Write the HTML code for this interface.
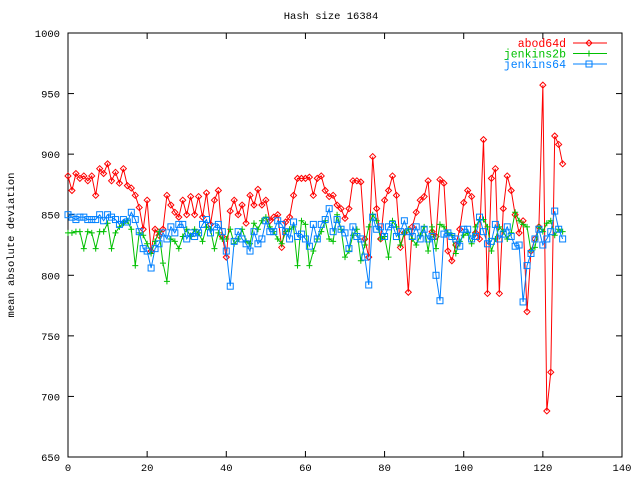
<!DOCTYPE html>
<html><head><meta charset="utf-8"><style>
body{margin:0;background:#fff}
svg{display:block;font-family:"Liberation Mono",monospace;font-size:10.5px}
</style></head><body>
<svg id="chart" width="640" height="480" xmlns="http://www.w3.org/2000/svg">
<rect width="640" height="480" fill="#fff"/>
<text x="331" y="19" text-anchor="middle">Hash size 16384</text>
<text transform="translate(14,245) rotate(-90)" text-anchor="middle">mean absolute deviation</text>
<g id="axes"></g>
<g id="series"></g>
<g id="legend"></g>
</svg>
<script>
const xTicks=[0,20,40,60,80,100,120,140];
const yTicks=[650,700,750,800,850,900,950,1000];
const seriesNames=["abod64d","jenkins2b","jenkins64"];
const abod64d=[882,870,884,880,882,878,882,866,888,884,892,878,885,876,888,874,872,866,856,838,862,820,838,833,838,866,858,852,848,862,850,865,850,865,848,868,842,862,870,832,815,853,862,850,858,843,866,858,871,858,862,845,848,850,823,844,848,866,880,880,880,881,866,880,882,870,865,866,858,855,847,855,878,878,877,830,815,898,855,830,862,870,882,866,823,835,786,840,852,862,865,878,836,832,879,876,820,812,825,838,860,870,865,835,830,912,785,880,888,785,855,882,870,850,835,845,770,820,830,840,957,688,720,915,908,892];
const jenkins2b=[835,835,836,836,822,836,835,822,836,836,843,822,835,840,843,845,838,808,835,833,826,818,828,836,810,795,830,828,822,832,838,832,838,835,828,840,838,822,835,830,830,838,826,830,838,828,826,843,838,845,848,840,836,830,826,836,838,840,808,845,842,808,820,830,836,845,830,828,850,838,815,820,833,838,812,825,840,850,845,830,832,815,845,840,825,835,838,830,825,833,840,820,840,822,842,840,835,833,818,828,833,835,826,840,846,846,840,820,830,840,836,830,835,852,845,842,840,820,823,840,836,843,845,833,838,836];
const jenkins64=[850,848,846,848,848,846,846,846,850,845,850,848,846,842,846,844,852,846,836,822,820,806,822,826,835,830,840,835,842,842,830,835,832,835,842,846,835,840,842,836,820,791,828,836,830,826,820,836,826,830,845,836,836,845,842,836,830,844,832,834,830,824,842,830,842,846,855,836,846,838,835,822,840,832,830,815,792,848,838,840,832,840,842,832,836,845,836,832,840,830,838,830,832,800,779,834,835,832,830,824,838,838,830,832,848,836,826,828,842,830,834,840,832,824,825,778,808,818,830,838,825,830,836,853,838,830];
const L=68,R=622,T=33,B=457;
const sx=v=>L+(v-0)/(140-0)*(R-L);
const sy=v=>B-(v-650)/(1000-650)*(B-T);
const NS="http://www.w3.org/2000/svg";
function mk(p,tag,at){const e=document.createElementNS(NS,tag);for(const k in at)e.setAttribute(k,at[k]);p.appendChild(e);return e;}
const ax=document.getElementById('axes');
const fr=mk(ax,'rect',{x:L,y:T,width:R-L,height:B-T,fill:'none',stroke:'#000','stroke-width':1});


xTicks.forEach(t=>{const x=sx(t);
 mk(ax,'line',{x1:x,x2:x,y1:B,y2:B-6,stroke:'#000'});mk(ax,'line',{x1:x,x2:x,y1:T,y2:T+6,stroke:'#000'});
 const tx=mk(ax,'text',{x:x,y:B+14,'text-anchor':'middle'});tx.textContent=t;
 
 });
yTicks.forEach(t=>{const y=sy(t);
 mk(ax,'line',{x1:L,x2:L+6,y1:y,y2:y,stroke:'#000'});mk(ax,'line',{x1:R,x2:R-6,y1:y,y2:y,stroke:'#000'});
 const tx=mk(ax,'text',{x:L-8,y:y+4,'text-anchor':'end'});tx.textContent=t;
 
 });
const colors=["#ff0000","#00c000","#0080ff"];
function marker(g,k,x,y,c){
 if(k==0)mk(g,'path',{d:`M${x-3},${y}L${x},${y-3}L${x+3},${y}L${x},${y+3}Z`,fill:'none',stroke:c});
 else if(k==1)mk(g,'path',{d:`M${x-3},${y}H${x+3}M${x},${y-3}V${y+3}`,stroke:c});
 else mk(g,'rect',{x:x-3,y:y-3,width:6,height:6,fill:'none',stroke:c});
}
const sg=document.getElementById('series');
[abod64d,jenkins2b,jenkins64].forEach((arr,k)=>{
 const g=mk(sg,'g',{});
 
 
 mk(g,'polyline',{points:arr.map((v,i)=>sx(i)+','+sy(v)).join(' '),fill:'none',stroke:colors[k],'stroke-width':1});
 arr.forEach((v,i)=>marker(g,k,sx(i),sy(v),colors[k]));
});
const lg=document.getElementById('legend');
seriesNames.forEach((n,k)=>{const y=43+k*10.5;
 const e=mk(lg,'g',{});
 
 
 const t=mk(e,'text',{x:566,y:y+4,'text-anchor':'end',fill:colors[k],'font-size':'11.5px'});t.textContent=n;
 mk(e,'line',{x1:573,x2:607,y1:y,y2:y,stroke:colors[k]});
 marker(e,k,589,y,colors[k]);});
</script>
</body></html>
